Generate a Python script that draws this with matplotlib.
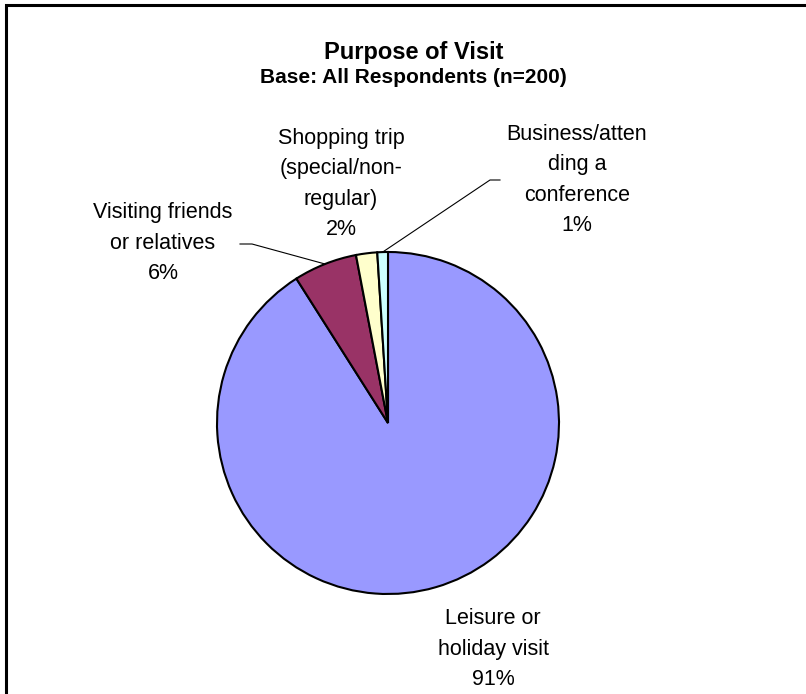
import numpy as np
import matplotlib
matplotlib.use("Agg")
import matplotlib.pyplot as plt
from matplotlib.patches import Rectangle

plt.rcParams['font.family'] = ['Liberation Sans', 'DejaVu Sans']

# Survey answers, in drawing order (clockwise from 12 o'clock)
purposes = ["Leisure or\nholiday visit",
            "Visiting friends\nor relatives",
            "Shopping trip\n(special/non-\nregular)",
            "Business/atten\nding a\nconference"]
shares = [91, 6, 2, 1]
colors = ["#9999FF", "#993366", "#FFFFCC", "#CCFFFF"]

W, H = 806, 694
fig = plt.figure(figsize=(W / 100, H / 100), dpi=100)
ax = fig.add_axes([0, 0, 1, 1])

cx, cy, r = 388, H - 423, 171
wedges, _ = ax.pie(shares, colors=colors, startangle=90, counterclock=False,
                   center=(cx, cy), radius=r,
                   wedgeprops=dict(edgecolor="black", linewidth=1.5))
ax.set_xlim(0, W)
ax.set_ylim(0, H)
ax.set_aspect('equal')
ax.axis('off')

# frame round the chart area
ax.add_patch(Rectangle((5.5, -10), W + 20, H - 4.5 + 10, fill=False,
                       edgecolor="black", linewidth=2.2, clip_on=False))

ax.text(414, H - 52, "Purpose of Visit", ha="center", va="center",
        fontsize=17, fontweight="bold")
ax.text(413, H - 77, "Base: All Respondents (n=200)", ha="center",
        va="center", fontsize=15, fontweight="bold")

# label centres (x, y of middle) and optional leader-line anchor + elbow
label_pos = [(493, 649), (163, 243), (341, 184), (577, 180)]
leaders = {1: [(240, 244), (252, 244)], 3: [(500, 180), (490, 180)]}

for i, (name, pct) in enumerate(zip(purposes, shares)):
    x, y = label_pos[i]
    ax.text(x, H - y, f"{name}\n{pct}%", ha="center", va="center",
            fontsize=15.5, linespacing=1.6)
    if i in leaders:
        w = wedges[i]
        mid = np.deg2rad((w.theta1 + w.theta2) / 2)
        ex, ey = cx + r * np.cos(mid), cy + r * np.sin(mid)
        pts = leaders[i]
        xs = [p[0] for p in pts] + [ex]
        ys = [H - p[1] for p in pts] + [ey]
        ax.plot(xs, ys, color="black", linewidth=0.8)

fig.savefig("out.png", dpi=100)
